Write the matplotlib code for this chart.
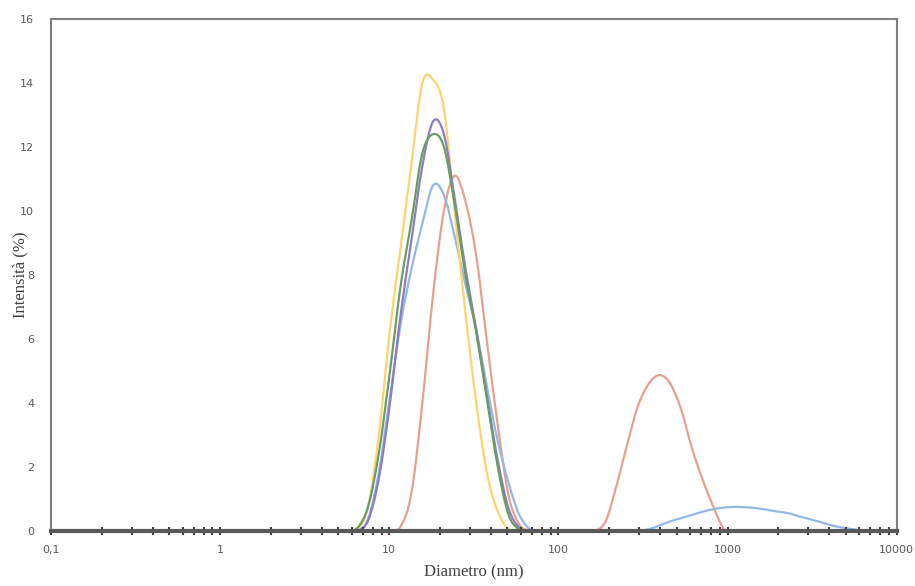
import numpy as np
import matplotlib
matplotlib.use("Agg")
import matplotlib.pyplot as plt
from matplotlib.path import Path
from matplotlib.patches import PathPatch
from matplotlib.ticker import FixedLocator, LogLocator, NullFormatter

# size classes (nm)
sizes = [0.4, 0.4632, 0.5365, 0.6213, 0.7195, 0.8332, 0.9649, 1.117, 1.294, 1.499,
         1.736, 2.01, 2.328, 2.696, 3.122, 3.615, 4.187, 4.849, 5.615, 6.503,
         7.531, 8.721, 10.1, 11.7, 13.54, 15.69, 18.17, 21.04, 24.36, 28.21,
         32.67, 37.84, 43.82, 50.75, 58.77, 68.06, 78.82, 91.28, 105.7, 122.4,
         141.8, 164.2, 190.1, 220.2, 255.0, 295.3, 342.0, 396.1, 458.7, 531.2,
         615.1, 712.4, 825.0, 955.4, 1106, 1281, 1484, 1718, 1990, 2305,
         2669, 3091, 3580, 4145, 4801, 5560, 6439, 7456, 8635, 10000]

# intensity (%) per sample
orange = ([0.0] * 23
          + [0.15, 1.2, 4.0, 7.4, 10.0, 11.1, 10.3, 8.6, 5.9, 3.3, 1.1, 0.2]
          + [0.0] * 7
          + [0.3, 1.4, 2.7, 3.9, 4.6, 4.87, 4.6, 3.8, 2.6, 1.6, 0.75, 0.05]
          + [0.0] * 16)
blue = ([0.0] * 20
        + [0.4, 1.9, 4.2, 6.5, 8.2, 9.6, 10.8, 10.5, 9.2, 7.7, 6.3, 4.5, 2.8, 1.5, 0.5, 0.05]
        + [0.0] * 10
        + [0.05, 0.17, 0.3, 0.4, 0.5, 0.6, 0.68, 0.73, 0.75, 0.74, 0.71, 0.66, 0.6,
           0.55, 0.45, 0.36, 0.27, 0.17, 0.1, 0.05]
        + [0.0] * 4)
yellow = ([0.0] * 19
          + [0.05, 0.8, 3.1, 6.3, 8.9, 11.5, 14.0, 14.1, 13.2, 10.0, 6.8, 4.0, 1.8, 0.6, 0.05]
          + [0.0] * 36)
purple = ([0.0] * 20
          + [0.35, 1.7, 4.0, 6.8, 9.1, 11.4, 12.8, 12.4, 10.4, 8.2, 6.3, 4.2, 2.2, 0.7, 0.1]
          + [0.0] * 35)
green = ([0.0] * 19
         + [0.1, 0.8, 2.5, 5.0, 7.7, 9.7, 11.8, 12.4, 12.0, 10.2, 8.0, 6.2, 4.1, 2.0, 0.5, 0.05]
         + [0.0] * 35)

x_ticks = [0.1, 1, 10, 100, 1000, 10000]
x_ticklabels = ["0,1", "1", "10", "100", "1000", "10000"]
y_ticks = [0, 2, 4, 6, 8, 10, 12, 14, 16]


def smooth_line(ax, x, y, color):
    # smoothed line like the spreadsheet one: Catmull-Rom through the points, in log-x space
    lx = np.log10(x)
    y = np.asarray(y, dtype=float)
    verts = [(x[0], y[0])]
    codes = [Path.MOVETO]
    n = len(lx)
    for i in range(n - 1):
        p0 = (lx[max(i - 1, 0)], y[max(i - 1, 0)])
        p1 = (lx[i], y[i])
        p2 = (lx[i + 1], y[i + 1])
        p3 = (lx[min(i + 2, n - 1)], y[min(i + 2, n - 1)])
        c1 = (p1[0] + (p2[0] - p0[0]) / 6, p1[1] + (p2[1] - p0[1]) / 6)
        c2 = (p2[0] - (p3[0] - p1[0]) / 6, p2[1] - (p3[1] - p1[1]) / 6)
        verts += [(10 ** c1[0], c1[1]), (10 ** c2[0], c2[1]), (x[i + 1], y[i + 1])]
        codes += [Path.CURVE4] * 3
    ax.add_patch(PathPatch(Path(verts, codes), facecolor="none", edgecolor=color, lw=1.6))


fig = plt.figure(figsize=(9.15, 5.86), dpi=100)
ax = fig.add_axes([0.0557, 0.094, 0.9243, 0.8736])

smooth_line(ax, sizes, orange, "#E8A08C")
smooth_line(ax, sizes, blue, "#93B8E6")
smooth_line(ax, sizes, yellow, "#FFD26E")
smooth_line(ax, sizes, purple, "#8C7BC8")
smooth_line(ax, sizes, green, "#6B9E5E")

ax.set_xscale("log")
ax.set_xlim(0.1, 10000)
ax.set_ylim(0, 16)

ax.xaxis.set_major_locator(FixedLocator(x_ticks))
ax.set_xticklabels(x_ticklabels)
ax.xaxis.set_minor_locator(LogLocator(base=10, subs=np.arange(2, 10)))
ax.xaxis.set_minor_formatter(NullFormatter())
ax.set_yticks(y_ticks)
ax.set_yticklabels([str(v) for v in y_ticks])

ax.tick_params(axis="x", which="both", direction="inout", length=6, width=1.5,
               color="#404040", labelsize=8, labelcolor="#595959", pad=7)
ax.tick_params(axis="y", length=0, labelsize=8, labelcolor="#595959", pad=12)

for s in ["left", "right", "top"]:
    ax.spines[s].set_color("#7F7F7F")
    ax.spines[s].set_linewidth(1.5)
ax.spines["bottom"].set_color("#595959")
ax.spines["bottom"].set_linewidth(3)

ax.set_xlabel("Diametro (nm)", family="Liberation Serif", fontsize=12, color="#404040", labelpad=7)
ax.set_ylabel("Intensità (%)", family="Liberation Serif", fontsize=12, color="#404040")
ax.yaxis.set_label_coords(-0.027, 0.5)

fig.savefig("out.png", dpi=100)
